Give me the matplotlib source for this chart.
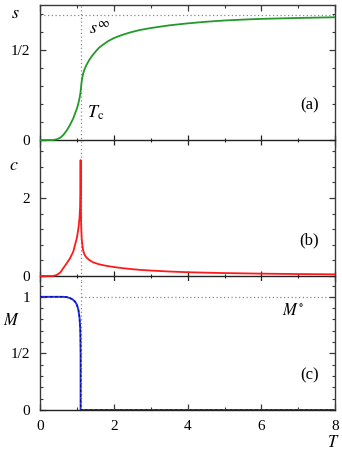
import numpy as np
import matplotlib
matplotlib.use("Agg")
import matplotlib.pyplot as plt
from matplotlib.ticker import FixedLocator, MultipleLocator

plt.rcParams['font.family'] = ['Liberation Serif', 'DejaVu Serif']
plt.rcParams['mathtext.fontset'] = 'stix'

Tc = 1.10
s_inf = 0.693

# entropy s(T)
T_s = [0, 0.35, 0.45, 0.55, 0.63, 0.72, 0.81, 0.9, 0.95, 1.0, 1.04, 1.07, 1.09,
       1.10, 1.12, 1.14, 1.17, 1.21, 1.26, 1.32, 1.4, 1.5, 1.6, 1.71, 1.85,
       2.0, 2.2, 2.43, 2.7, 3.0, 3.5, 4.0, 4.5, 5.0, 5.5, 6.0, 7.0, 8.0]
s_vals = [0, 0.0, 0.004, 0.013, 0.028, 0.052, 0.083, 0.12, 0.148, 0.175, 0.204,
          0.232, 0.255, 0.27, 0.31, 0.34, 0.37, 0.395, 0.417, 0.44, 0.465,
          0.49, 0.513, 0.53, 0.55, 0.566, 0.582, 0.597, 0.611, 0.622, 0.637,
          0.648, 0.657, 0.664, 0.669, 0.673, 0.678, 0.682]

# specific heat c(T)
T_c = [0, 0.35, 0.45, 0.55, 0.63, 0.72, 0.81, 0.9, 0.95, 1.0, 1.04, 1.07, 1.085,
       1.095, 1.10, 1.105, 1.115, 1.13, 1.15, 1.17, 1.2, 1.26, 1.35, 1.44, 1.6,
       1.8, 2.0, 2.25, 2.5, 2.7, 3.0, 3.5, 4.0, 4.5, 5.0, 6.0, 7.0, 8.0]
c_vals = [0, 0, 0.025, 0.09, 0.2, 0.32, 0.45, 0.62, 0.8, 0.98, 1.22, 1.48, 1.75,
          2.1, 2.97, 2.0, 1.3, 0.95, 0.78, 0.65, 0.56, 0.47, 0.4, 0.35, 0.3,
          0.26, 0.23, 0.2, 0.175, 0.158, 0.14, 0.115, 0.097, 0.085, 0.075,
          0.06, 0.05, 0.043]

# magnetisation M(T)
T_M = [0, 0.6, 0.72, 0.8, 0.87, 0.95, 1.0, 1.04, 1.07, 1.09, 1.095, 1.10, 1.10, 8.0]
M_vals = [1, 1, 0.998, 0.99, 0.98, 0.958, 0.93, 0.885, 0.82, 0.72, 0.65, 0.5, 0, 0]

W, H = 342, 462
fig = plt.figure(figsize=(W / 100, H / 100), dpi=100)

left = 40 / W
width = (335.3 - 40) / W

def frac(y0, y1):
    return [left, 1 - y1 / H, width, (y1 - y0) / H]

ax_a = fig.add_axes(frac(5, 146))
ax_b = fig.add_axes(frac(146, 281), sharex=ax_a)
ax_c = fig.add_axes(frac(281, 410), sharex=ax_a)

spine_col = '#3a3a3a'
dot_col = '#888888'

for ax in (ax_a, ax_b, ax_c):
    ax.set_xlim(0, 8)
    for sp in ax.spines.values():
        sp.set_color(spine_col)
        sp.set_linewidth(1.0)
    ax.spines['top'].set_visible(False)
    ax.xaxis.set_major_locator(MultipleLocator(2))
    ax.xaxis.set_minor_locator(MultipleLocator(1))
    ax.tick_params(axis='y', which='both', left=True, right=True,
                   direction='in', colors=spine_col, labelcolor='black',
                   labelsize=11, pad=7)
    ax.tick_params(axis='y', which='major', length=4, width=0.9)
    ax.tick_params(axis='y', which='minor', length=2.2, width=0.8)
    ax.axvline(Tc, color=dot_col, ls=(0, (1, 2)), lw=0.9, zorder=1)

# panels a, b: x axis drawn through zero
for ax in (ax_a, ax_b):
    ax.spines['bottom'].set_position(('data', 0))
    ax.spines['bottom'].set_color('#222222')
    ax.tick_params(axis='x', which='both', bottom=True, top=False,
                   direction='inout', labelbottom=False, colors='#222222')
    ax.tick_params(axis='x', which='major', length=7, width=0.9)
    ax.tick_params(axis='x', which='minor', length=3.5, width=0.8)

# top axis of panel a
sec = ax_a.secondary_xaxis('top')
sec.xaxis.set_major_locator(MultipleLocator(2))
sec.xaxis.set_minor_locator(MultipleLocator(1))
sec.spines['top'].set_color(spine_col)
sec.spines['top'].set_linewidth(1.0)
sec.tick_params(axis='x', which='both', direction='in', labeltop=False,
                colors=spine_col)
sec.tick_params(axis='x', which='major', length=4, width=0.9)
sec.tick_params(axis='x', which='minor', length=2.2, width=0.8)

# panel c bottom axis
ax_c.tick_params(axis='x', which='both', bottom=True, top=False,
                 direction='in', labelsize=11, pad=7, colors=spine_col,
                 labelcolor='black')
ax_c.tick_params(axis='x', which='major', length=4, width=0.9)
ax_c.tick_params(axis='x', which='minor', length=2.2, width=0.8)
ax_c.spines['bottom'].set_color('#222222')

# panel a
ax_a.set_ylim(-0.033, 0.75)
ax_a.yaxis.set_major_locator(FixedLocator([0, 0.5]))
ax_a.set_yticklabels(['0', '1/2'])
ax_a.yaxis.set_minor_locator(MultipleLocator(0.1))
ax_a.axhline(s_inf, color=dot_col, ls=(0, (1, 2)), lw=0.9, zorder=1)
ax_a.plot(T_s, s_vals, color='#22992a', lw=1.3, zorder=3)
ax_a.text(1.62, 0.615, r'$s^{\infty}$', fontsize=13, ha='center', va='center')
ax_a.text(1.5, 0.15, r'$T_{\rm c}$', fontsize=13, ha='center', va='center')
ax_a.text(7.3, 0.19, '(a)', fontsize=12, ha='center', va='center')

# panel b
ax_b.set_ylim(-0.128, 3.33)
ax_b.yaxis.set_major_locator(FixedLocator([0, 2]))
ax_b.set_yticklabels(['0', '2'])
ax_b.yaxis.set_minor_locator(MultipleLocator(0.4))
ax_b.plot(T_c, c_vals, color='#ff1a1a', lw=1.3, zorder=3)
ax_b.text(7.3, 0.92, '(b)', fontsize=12, ha='center', va='center')

# panel c
ax_c.set_ylim(0, 1.14)
ax_c.yaxis.set_major_locator(FixedLocator([0, 0.5, 1]))
ax_c.set_yticklabels(['0', '1/2', '1'])
ax_c.yaxis.set_minor_locator(MultipleLocator(0.1))
ax_c.hlines(1, Tc, 8, color=dot_col, ls=(0, (1, 2)), lw=0.9, zorder=1)
ax_c.plot(T_M, M_vals, color='#2233ff', lw=1.4, zorder=3)
ax_c.plot(T_M, M_vals, color='#101060', lw=0.9, ls=(0, (2, 2)), zorder=4)
ax_c.text(6.85, 0.876, r'$M^{\circ}$', fontsize=12, ha='center', va='center')
ax_c.text(7.3, 0.305, '(c)', fontsize=12, ha='center', va='center')

# axis labels
fig.text(15 / W, 1 - 13 / H, r'$s$', fontsize=13, ha='center', va='center')
fig.text(14 / W, 1 - 165 / H, r'$c$', fontsize=13, ha='center', va='center')
fig.text(11 / W, 1 - 321 / H, r'$M$', fontsize=12, ha='center', va='center')
fig.text(333 / W, 1 - 443 / H, r'$T$', fontsize=12, ha='center', va='center')

fig.savefig('out.png', dpi=100)
